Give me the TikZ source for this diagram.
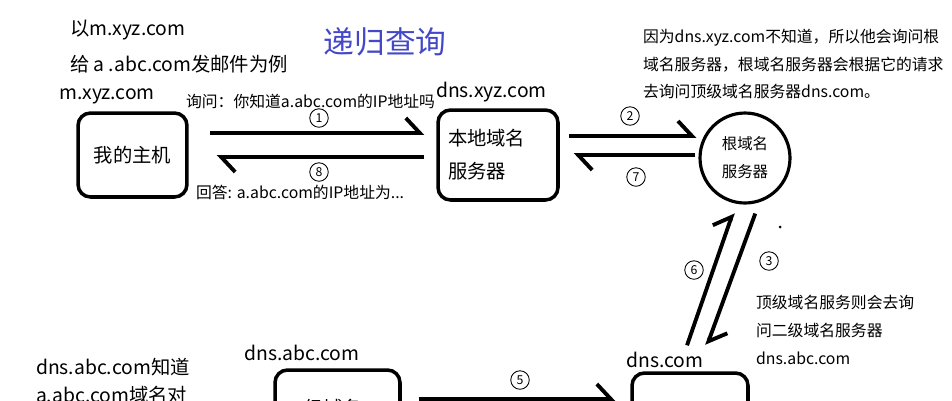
\documentclass[tikz,border=0pt]{standalone}
\usepackage{fontspec}
\setmainfont{Noto Sans CJK SC}
\usetikzlibrary{arrows.meta}
\definecolor{titleblue}{RGB}{68,72,200}

\begin{document}
\begin{tikzpicture}[x=0.02cm,y=-0.02cm,
  box/.style={draw,line width=2pt,rounded corners=0.25cm},
  big/.style={font=\fontsize{11}{16}\selectfont,inner sep=1pt},
  small/.style={font=\fontsize{9}{15.9}\selectfont,inner sep=1pt},
  num/.style={draw,circle,line width=0.5pt,inner sep=0pt,minimum size=0.37cm,font=\fontsize{7}{7}\selectfont},
  flow/.style={line width=2.2pt,-{Straight Barb[harpoon,length=0.28cm,width=0.6cm]}}]
\useasboundingbox (0,0) rectangle (952,400);
\clip (0,0) rectangle (952,400);
\node[big,anchor=west] (intro1) at (68,30) {以m.xyz.com};
\node[big,anchor=west] (intro2) at (68,64) {给 a .abc.com发邮件为例};
\node[font=\fontsize{17.5}{20}\selectfont,text=titleblue] (title) at (385,42) {递归查询};
\node[big,anchor=west] (hostname) at (57,96) {m.xyz.com};
\node[big,anchor=west] (localname) at (434,92) {dns.xyz.com};
\node[small,anchor=west] (ask) at (184,101) {询问：你知道a.abc.com的IP地址吗};
\node[small,anchor=west] (answer) at (194,192) {回答: a.abc.com的IP地址为...};
\node[small,anchor=west,align=left] (rootnote) at (641,64) {因为dns.xyz.com不知道，所以他会询问根\\域名服务器，根域名服务器会根据它的请求\\去询问顶级域名服务器dns.com。};
\node[small,anchor=west,align=left] (topnote) at (754,330) {顶级域名服务则会去询\\问二级域名服务器\\dns.abc.com};
\node[big,anchor=west,align=left] (abcnote) at (34,381) {dns.abc.com知道\\a.abc.com域名对};
\node[big] (topname) at (665,360) {dns.com};
\node[big] (abcname) at (302,353) {dns.abc.com};

\node[box,big,minimum width=2.18cm,minimum height=1.68cm] (host) at (132.5,155) {我的主机};
\node[box,minimum width=2.4cm,minimum height=1.8cm,text width=2cm,align=left,font=\fontsize{11}{18.7}\selectfont] (local) at (498,155) {本地域名\\服务器};
\node[draw,circle,line width=1.8pt,minimum size=1.8cm,align=center,font=\fontsize{8.8}{15.9}\selectfont] (root) at (745,158) {根域名\\服务器};
\node[box,minimum width=2.32cm,minimum height=2cm] (topdns) at (690,423) {};
\node[box,minimum width=2.5cm,minimum height=2.2cm,text width=2.1cm,align=left,font=\fontsize{11}{18.7}\selectfont] (abcdns) at (337.5,425) {二级域名\\服务器};

\node[num] (n1) at (319,118) {1};
\node[num] (n8) at (319,172) {8};
\node[num] (n2) at (630,116) {2};
\node[num] (n7) at (636,177) {7};
\node[num] (n6) at (694,270) {6};
\node[num] (n3) at (769,261) {3};
\node[num] (n5) at (520,380) {5};

\draw[flow,shorten <=0.42cm,shorten >=0.24cm] ([yshift=0.44cm]host.east) -- ([yshift=0.44cm]host.east -| local.west);
\draw[flow,shorten <=0.24cm,shorten >=0.56cm] ([yshift=-0.04cm]local.west) -- ([yshift=-0.04cm]local.west -| host.east);
\draw[flow,shorten <=0.18cm,shorten >=0.04cm] ([yshift=0.38cm]local.east) -- ([yshift=0.38cm]local.east -| root.west);
\draw[flow,shorten <=0.06cm,shorten >=0.28cm] (local.east -| root.west) -- (local.east);
\draw[flow,shorten <=0.24cm,shorten >=0.55cm] (root.-72) -- ([xshift=0.15cm]topdns.north);
\draw[flow,shorten <=0.55cm,shorten >=0.19cm] ([xshift=-0.24cm]topdns.north) -- (root.-101);
\draw[flow,shorten <=0.34cm,shorten >=0.3cm] ([yshift=0.52cm]abcdns.east) -- ([yshift=0.52cm]abcdns.east -| topdns.west);
\fill (780,227) circle (0.03cm);
\end{tikzpicture}
\end{document}
